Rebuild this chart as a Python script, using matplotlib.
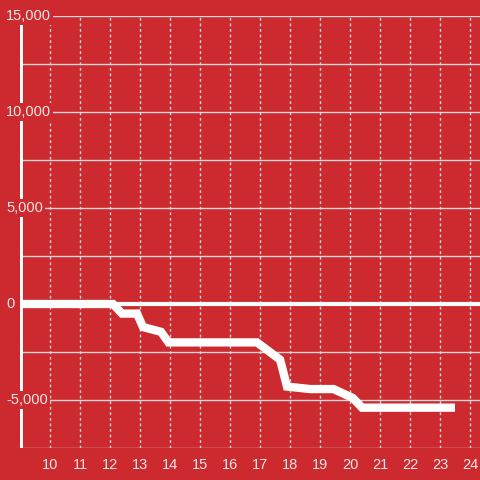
import matplotlib
matplotlib.use('Agg')
import matplotlib.pyplot as plt
import matplotlib.transforms as mtransforms

# Data
x_vals = [9.0, 12.1, 12.4, 12.9, 13.1, 13.7, 13.95, 16.9, 17.67, 17.9, 18.67, 19.45, 20.1, 20.4, 23.5]
y_vals = [0, 0, -500, -500, -1200, -1450, -2000, -2000, -2900, -4300, -4430, -4430, -4900, -5400, -5400]
x_ticks = list(range(10, 25))
y_label_vals = [15000, 10000, 5000, 0, -5000]

bg = '#cc2a2e'
grid_col = '#d8d8d8'
text_col = '#f5e6e6'

plt.rcParams['font.family'] = ['Liberation Sans', 'DejaVu Sans']

fig = plt.figure(figsize=(4.8, 4.8), dpi=100)
fig.patch.set_facecolor(bg)
ax = fig.add_axes([20 / 480, 32 / 480, 460 / 480, 432 / 480])
ax.set_facecolor(bg)
ax.set_xlim(9.0, 9 + 460 / 30)
ax.set_ylim(-7500, 15000)

for s in ax.spines.values():
    s.set_visible(False)

# horizontal grid
for yv in range(-7500, 15001, 2500):
    ax.axhline(yv, color=grid_col, lw=1, zorder=1)

# vertical dotted grid
for xv in x_ticks:
    ax.axvline(xv, color=grid_col, lw=1, ls=(0, (2, 2)), zorder=1)

# zero line and y axis line
ax.axhline(0, color='white', lw=3, zorder=2)
ax.axvline(9.0, color='white', lw=3.5, zorder=2)

# data line
ax.plot(x_vals, y_vals, color='white', lw=6, solid_joinstyle='miter',
        solid_capstyle='butt', zorder=3)

ax.set_xticks(x_ticks)
ax.set_xticklabels([str(t) for t in x_ticks], color=text_col, fontsize=10.5)
ax.tick_params(axis='x', length=0, pad=7)
ax.set_yticks([])

# y labels sitting on top of the axis line
trans = mtransforms.blended_transform_factory(fig.transFigure, ax.transData)
for v in y_label_vals:
    ax.text(6 / 480, v, f'{v:,}', transform=trans, ha='left', va='center',
            color=text_col, fontsize=10.5, zorder=5,
            bbox=dict(facecolor=bg, edgecolor='none', pad=1.5))

fig.savefig('out.png', dpi=100, facecolor=bg)
